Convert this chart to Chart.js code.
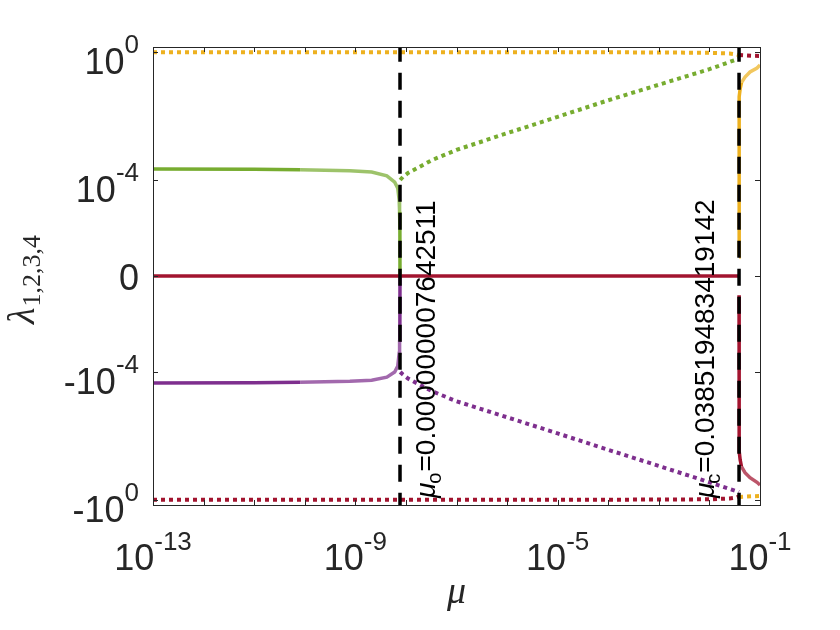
<!DOCTYPE html>
<html>
<head>
<meta charset="utf-8">
<script src="https://cdn.jsdelivr.net/npm/chart.js@4.4.0/dist/chart.umd.min.js"></script>
<style>
  html, body { margin: 0; padding: 0; background: #fff; }
</style>
</head>
<body>
<canvas id="myChart" width="840" height="630"></canvas>
<script>
// critical values of mu
var muO = 0.000000007642511;
var muC = 0.038519483419142;

// ticks
var xTicks = [1e-13, 1e-9, 1e-5, 1e-1];
var xTickText = ["10^-13", "10^-9", "10^-5", "10^-1"];
var yTicks = [-1, -1e-4, 0, 1e-4, 1];
var yTickText = ["-10^0", "-10^-4", "0", "10^-4", "10^0"];

// eigenvalues
var muOrangeDot = [1e-13, 1e-9, 1e-5, 1e-3, 1e-2, 0.025, 0.033, 0.0375];
var lamOrangeDot = [0.98, 0.98, 0.98, 0.97, 0.94, 0.9, 0.85, 0.8];
var muRedDot = [1e-13, 1e-9, 1e-5, 1e-3, 1e-2, 0.025, 0.033, 0.0375];
var lamRedDot = [-0.98, -0.98, -0.98, -0.97, -0.95, -0.9, -0.85, -0.78];

var muZero = [1e-13, muC];
var lamZero = [0, 0];

var muGreen = [1e-13, 1e-11, 8.1e-11, 7.8e-10, 2.1e-9, 4.2e-9, 6.0e-9, 6.9e-9, 7.35e-9, 7.5e-9, 7.6e-9, muO];
var lamGreen = [2.21e-4, 2.18e-4, 2.1e-4, 1.95e-4, 1.78e-4, 1.35e-4, 8.5e-5, 5.5e-5, 2.4e-5, 1e-5, 3e-6, 0];
var muPurple = [1e-13, 1e-11, 8.1e-11, 7.8e-10, 2.1e-9, 4.2e-9, 6.0e-9, 6.9e-9, 7.35e-9, 7.5e-9, 7.6e-9, muO];
var lamPurple = [-2.21e-4, -2.18e-4, -2.1e-4, -1.95e-4, -1.8e-4, -1.45e-4, -1.0e-4, -6.5e-5, -2.6e-5, -1e-5, -3e-6, 0];

var muGreenDot = [7.7e-9, 8.7e-9, 1.1e-8, 3.3e-8, 1e-7, 1e-6, 1e-5, 1e-4, 1e-3, 1e-2, 0.0385];
var lamGreenDot = [1.0e-4, 1.24e-4, 1.65e-4, 4.2e-4, 8.7e-4, 2.9e-3, 9.4e-3, 0.031, 0.095, 0.29, 0.62];
var muPurpleDot = [7.7e-9, 8.7e-9, 1.1e-8, 3.3e-8, 1e-7, 1e-6, 1e-5, 1e-4, 1e-3, 1e-2, 0.0385];
var lamPurpleDot = [-1.0e-4, -1.2e-4, -1.6e-4, -4.0e-4, -8.2e-4, -2.6e-3, -8.3e-3, -0.027, -0.086, -0.28, -0.56];

var muAfter = [0.03852, 0.038525, 0.03855, 0.0387, 0.0392, 0.0405, 0.043, 0.0506, 0.0635, 0.0873, 0.1];
var lamOrangeAfter = [3e-7, 1e-4, 0.003, 0.015, 0.04, 0.07, 0.11, 0.165, 0.237, 0.316, 0.39];
var lamRedAfter = [-3e-7, -1e-4, -0.003, -0.012, -0.03, -0.055, -0.09, -0.14, -0.2, -0.28, -0.34];

var muAfterDot = [0.03852, 0.05, 0.07, 0.1];
var lamRedAfterDot = [0.8, 0.78, 0.76, 0.75];
var lamOrangeAfterDot = [-0.8, -0.78, -0.76, -0.75];

var ORANGE = "#EDB120", GREEN = "#77AC30", PURPLE = "#7E2F8E", RED = "#A2142F";
var DOT = [4, 4], DASH = [17, 11];

// symmetric log mapping used for the y axis
var LIN = 1e-7;
function sym(v) {
  return Math.sign(v) * Math.log10(1 + Math.abs(v) / LIN);
}
var yLim = 7.156;

function fade(hex) {
  var n = parseInt(hex.slice(1), 16);
  return "rgba(" + (n >> 16) + "," + ((n >> 8) & 255) + "," + (n & 255) + ",0.72)";
}

function series(mu, lam, color, dash, width, fadeFrom, fadeTo) {
  var light = fade(color);
  var ds = {
    data: mu.map(function (m, i) { return { x: m, y: sym(lam[i]) }; }),
    borderColor: color,
    borderWidth: width || 3.5,
    borderDash: dash || [],
    borderCapStyle: "butt",
    pointRadius: 0,
    tension: 0,
    fill: false
  };
  if (fadeFrom !== undefined) {
    ds.segment = {
      borderColor: function (c) {
        return (c.p0DataIndex >= fadeFrom && c.p0DataIndex < fadeTo) ? light : undefined;
      }
    };
  }
  return ds;
}

function drawPow(ctx, text, x, y, align, size, supSize, raise) {
  var parts = text.split("^");
  ctx.font = size + "px 'Liberation Sans', Arial, sans-serif";
  var wb = ctx.measureText(parts[0]).width;
  var we = 0;
  if (parts.length > 1) {
    ctx.font = supSize + "px 'Liberation Sans', Arial, sans-serif";
    we = ctx.measureText(parts[1]).width;
  }
  var total = wb + we;
  var start = align === "center" ? x - total / 2 : x - total;
  ctx.textAlign = "left";
  ctx.textBaseline = "alphabetic";
  ctx.font = size + "px 'Liberation Sans', Arial, sans-serif";
  ctx.fillText(parts[0], start, y);
  if (parts.length > 1) {
    ctx.font = supSize + "px 'Liberation Sans', Arial, sans-serif";
    ctx.fillText(parts[1], start + wb, y - raise);
  }
}

function drawMark(ctx, x, y, sub, value) {
  // rotated text reading upwards, anchored at (x, y)
  ctx.save();
  ctx.translate(x, y);
  ctx.rotate(-Math.PI / 2);
  ctx.textAlign = "left";
  ctx.textBaseline = "alphabetic";
  ctx.fillStyle = "#000";
  ctx.font = "italic 28px 'Liberation Sans', Arial, sans-serif";
  ctx.fillText("\u03bc", 0, 0);
  var w = ctx.measureText("\u03bc").width;
  ctx.font = "20px 'Liberation Sans', Arial, sans-serif";
  ctx.fillText(sub, w - 1, 6);
  var w2 = ctx.measureText(sub).width;
  ctx.font = "28px 'Liberation Sans', Arial, sans-serif";
  ctx.fillText("=" + value, w + w2, 0);
  ctx.restore();
}

var frame = {
  id: "frame",
  afterDraw: function (chart) {
    var ctx = chart.ctx, a = chart.chartArea;
    var xs = chart.scales.x, ys = chart.scales.y;
    ctx.save();

    // annotations for the two critical values
    var yBase = ys.getPixelForValue(sym(-1)) - 2;
    drawMark(ctx, xs.getPixelForValue(muO) + 35, yBase, "o", "0.000000007642511");
    drawMark(ctx, xs.getPixelForValue(muC) - 25, yBase, "c", "0.038519483419142");

    // box
    ctx.strokeStyle = "#262626";
    ctx.lineWidth = 1;
    ctx.strokeRect(a.left + 0.5, a.top + 0.5, a.right - a.left, a.bottom - a.top);

    // x ticks every decade, inside
    ctx.beginPath();
    for (var e = -13; e <= -1; e++) {
      var px = Math.round(xs.getPixelForValue(Math.pow(10, e))) + 0.5;
      ctx.moveTo(px, a.bottom); ctx.lineTo(px, a.bottom - 5);
      ctx.moveTo(px, a.top); ctx.lineTo(px, a.top + 5);
    }
    yTicks.forEach(function (v) {
      var py = Math.round(ys.getPixelForValue(sym(v))) + 0.5;
      ctx.moveTo(a.left, py); ctx.lineTo(a.left + 5, py);
      ctx.moveTo(a.right, py); ctx.lineTo(a.right - 5, py);
    });
    ctx.stroke();

    // tick labels
    ctx.fillStyle = "#262626";
    xTicks.forEach(function (v, i) {
      drawPow(ctx, xTickText[i], xs.getPixelForValue(v), a.bottom + 65, "center", 36, 26, 20);
    });
    yTicks.forEach(function (v, i) {
      var py = ys.getPixelForValue(sym(v));
      var t = yTickText[i];
      drawPow(ctx, t, a.left - 14, py + (t.indexOf("^") >= 0 ? 22 : 14), "right", 36, 26, 21);
    });

    // axis titles
    ctx.fillStyle = "#262626";
    ctx.textAlign = "center";
    ctx.textBaseline = "alphabetic";
    ctx.font = "italic 38px 'Liberation Serif', 'DejaVu Serif', serif";
    ctx.fillText("\u03bc", (a.left + a.right) / 2, 603);

    ctx.save();
    ctx.translate(34, 324);
    ctx.rotate(-Math.PI / 2);
    ctx.textAlign = "left";
    ctx.font = "italic 38px 'Liberation Serif', 'DejaVu Serif', serif";
    ctx.fillText("\u03bb", 0, 0);
    var lw = ctx.measureText("\u03bb").width;
    ctx.font = "26px 'Liberation Serif', 'DejaVu Serif', serif";
    ctx.fillText("1,2,3,4", lw + 1, 6);
    ctx.restore();

    ctx.restore();
  }
};

var ctx = document.getElementById("myChart").getContext("2d");
var chart = new Chart(ctx, {
  type: "line",
  data: {
    datasets: [
      series([muO, muO], [-2, 2], "#000000", DASH, 3.5),
      series([muC, muC], [-2, 2], "#000000", DASH, 3.5),
      series(muZero, lamZero, RED),
      series(muAfter, lamRedAfter, RED, [], 3.5, 6, 11),
      series(muAfter, lamOrangeAfter, ORANGE, [], 3.5, 6, 11),
      series(muGreen, lamGreen, GREEN, [], 3.5, 2, 9),
      series(muPurple, lamPurple, PURPLE, [], 3.5, 2, 9),
      series(muAfterDot, lamRedAfterDot, RED, DOT, 4),
      series(muAfterDot, lamOrangeAfterDot, ORANGE, DOT, 4),
      series(muGreenDot, lamGreenDot, GREEN, DOT, 4),
      series(muPurpleDot, lamPurpleDot, PURPLE, DOT, 4),
      series(muOrangeDot, lamOrangeDot, ORANGE, DOT, 4),
      series(muRedDot, lamRedDot, RED, DOT, 4)
    ]
  },
  options: {
    responsive: false,
    animation: false,
    devicePixelRatio: 1,
    layout: { padding: { left: 153, right: 80, top: 47, bottom: 125 } },
    plugins: { legend: { display: false }, tooltip: { enabled: false } },
    scales: {
      x: { type: "logarithmic", min: 1e-13, max: 1e-1, display: false },
      y: { type: "linear", min: -yLim, max: yLim, display: false }
    }
  },
  plugins: [frame]
});
</script>
</body>
</html>
